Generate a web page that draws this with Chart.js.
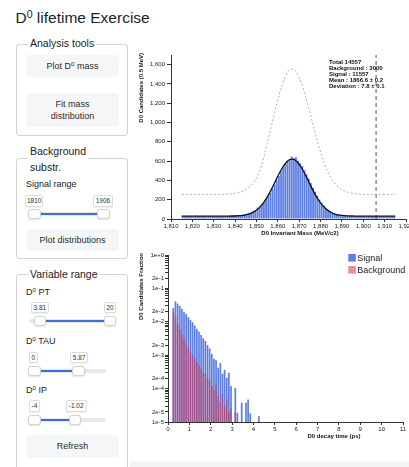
<!DOCTYPE html>
<html lang="en">
<head>
<meta charset="utf-8">
<title>D0 lifetime Exercise</title>
<script src="https://cdn.jsdelivr.net/npm/chart.js@4.4.1/dist/chart.umd.min.js"></script>
<style>
  html, body { margin: 0; padding: 0; }
  body {
    position: relative; width: 409px; height: 467px; overflow: hidden; background: #fff;
    font-family: 'Liberation Sans', Arial, Helvetica, sans-serif; color: #212529;
  }
  h1 { position: absolute; left: 15.5px; top: 10.4px; margin: 0; font-size: 15.5px; font-weight: normal; line-height: 1; white-space: nowrap; }
  sup { font-size: 0.68em; line-height: 0; vertical-align: 0.5em; }
  .panel { position: absolute; left: 16px; width: 112px; border: 1px solid #d4d4d4; border-radius: 3px; box-sizing: border-box; }
  .legend { position: absolute; left: 28px; padding: 0 2px; background: #fff; font-size: 10.5px; line-height: 16px; color: #222; white-space: nowrap; }
  .btn { position: absolute; left: 26px; width: 93px; background: #f5f6f7; border-radius: 3px; font-size: 9px; line-height: 12.5px; color: #2b2b2b; display: flex; align-items: center; justify-content: center; text-align: center; }
  .lbl { position: absolute; left: 26px; font-size: 9px; line-height: 1; color: #1a1a1a; white-space: nowrap; }
  .track { position: absolute; height: 4px; margin-top: -2px; background: #e8e8e8; border-radius: 2px; }
  .connect { position: absolute; height: 2px; margin-top: -1px; background: #3d6be0; }
  .handle { position: absolute; width: 12.5px; height: 10px; margin-top: -5px; margin-left: -6.25px; background: #fff; border: 1px solid #d2d2d2; border-radius: 3px; box-sizing: border-box; box-shadow: 0 1px 2px rgba(0,0,0,0.12); }
  .tip { position: absolute; height: 11.7px; border: 1px solid #dcdcdc; border-radius: 2px; box-sizing: border-box; background: #fff; font-size: 6.5px; line-height: 9.7px; text-align: center; color: #333; box-shadow: 0 1px 1px rgba(0,0,0,0.06); }
  .band { position: absolute; left: 130px; top: 461px; width: 279px; height: 6px; background: #f5f5f5; }
  canvas { position: absolute; left: 130px; }
  #mass-chart { top: 40px; }
  #time-chart { top: 242px; }
</style>
</head>
<body>

<h1>D<sup>0</sup> lifetime Exercise</h1>

<div class="panel" style="top:44px; height:92px;"></div>
<div class="legend" style="top:35px;">Analysis tools</div>
<div class="btn" style="top:55px; height:22px;"><span>Plot D<sup>0</sup> mass</span></div>
<div class="btn" style="top:93px; height:34px;"><span>Fit mass<br>distribution</span></div>

<div class="panel" style="top:158px; height:101px;"></div>
<div class="legend" style="top:143px;">Background<br>substr.</div>
<div class="lbl" style="top:180px;">Signal range</div>
<div class="btn" style="top:229px; height:22px;"><span>Plot distributions</span></div>

<div class="panel" style="top:274px; height:220px;"></div>
<div class="legend" style="top:266px;">Variable range</div>
<div class="lbl" style="top:287.9px;">D<sup>0</sup> PT</div>
<div class="lbl" style="top:336.8px;">D<sup>0</sup> TAU</div>
<div class="lbl" style="top:385.9px;">D<sup>0</sup> IP</div>
<div class="btn" style="top:435px; height:23px;"><span>Refresh</span></div>

<div id="sliders"></div>
<div class="band"></div>

<canvas id="mass-chart" width="290" height="202"></canvas>
<canvas id="time-chart" width="290" height="208"></canvas>

<script>
'use strict';

// DATA

// invariant mass histogram, 1 MeV bins starting at 1815
let massBinStart = 1815;
let massBinWidth = 1;
let massCounts = [
  31, 28, 34, 29, 32, 27, 35, 30, 28, 33,
  30, 26, 32, 29, 34, 31, 28, 33, 27, 30,
  32, 29, 35, 31, 33, 38, 36, 40, 44, 47,
  53, 58, 66, 78, 92, 118, 130, 152, 176, 208,
  236, 270, 312, 358, 402, 448, 492, 536, 570, 596,
  612, 648, 630, 640, 604, 578, 548, 505, 462, 418,
  372, 324, 282, 240, 202, 170, 142, 118, 96, 80,
  66, 57, 49, 44, 40, 36, 34, 33, 31, 30,
  32, 29, 31, 28, 33, 30, 27, 32, 29, 31,
  30, 33, 28, 31, 29, 32, 30, 27, 31, 29
];

// fitted curve and dashed grey curve, read every 2 MeV
let curveMass = [
  1815, 1817, 1819, 1821, 1823, 1825, 1827, 1829, 1831, 1833,
  1835, 1837, 1839, 1841, 1843, 1845, 1847, 1849, 1851, 1853,
  1855, 1857, 1859, 1861, 1863, 1865, 1867, 1869, 1871, 1873,
  1875, 1877, 1879, 1881, 1883, 1885, 1887, 1889, 1891, 1893,
  1895, 1897, 1899, 1901, 1903, 1905, 1907, 1909, 1911, 1913,
  1915
];
let fitCounts = [
  30, 30, 30, 30, 30, 30, 30, 30, 30, 30,
  30, 30, 31, 33, 36, 43, 55, 76, 110, 159,
  226, 307, 398, 487, 561, 609, 621, 594, 534, 452,
  361, 273, 197, 138, 95, 67, 49, 40, 34, 32,
  31, 30, 30, 30, 30, 30, 30, 30, 30, 30,
  30
];
let dashedCounts = [
  255, 255, 255, 255, 255, 255, 255, 255, 255, 255,
  256, 258, 262, 270, 283, 302, 336, 388, 470, 600,
  780, 965, 1150, 1315, 1450, 1535, 1555, 1510, 1410, 1270,
  1105, 935, 770, 625, 505, 420, 360, 320, 292, 276,
  266, 260, 257, 256, 255, 255, 255, 255, 255, 255,
  255
];
let signalCut = 1906;

let massXTicks = [1810, 1820, 1830, 1840, 1850, 1860, 1870, 1880, 1890, 1900, 1910, 1920];
let massYTicks = [0, 200, 400, 600, 800, 1000, 1200, 1400, 1600];

let fitStats = [
  'Total 14557',
  'Background : 3000',
  'Signal : 11557',
  'Mean : 1866.6 \u00b1 0.2',
  'Deviation : 7.8 \u00b1 0.1'
];

// decay time histograms, 0.1 ps bins (lower edges)
let timeBinWidth = 0.1;
let timeBins = [
  0.2, 0.3, 0.4, 0.5, 0.6, 0.7, 0.8, 0.9, 1.0, 1.1,
  1.2, 1.3, 1.4, 1.5, 1.6, 1.7, 1.8, 1.9, 2.0, 2.1,
  2.2, 2.3, 2.4, 2.5, 2.6, 2.7, 2.8, 2.9, 3.0, 3.1,
  3.2, 3.3, 3.4, 3.5, 3.6, 3.7, 3.8, 3.9, 4.0, 4.1,
  4.2
];
let signalFraction = [
  0.026, 0.041, 0.035, 0.030, 0.024, 0.020, 0.017, 0.0138, 0.0115, 0.0097,
  0.0078, 0.0062, 0.0051, 0.0040, 0.0032, 0.0027, 0.0020, 0.0016, 0.0011, 0.00078,
  0.00070, 0.00042, 0.00058, 0.00028, 0.00036, 0.00021, 0.00030, 0.00012, null, 0.000105,
  0.000019, null, 0.000038, null, 0.000038, 0.000047, 0.000018, null, null, null,
  0.000015
];
let backgroundFraction = [
  0.020, 0.014, 0.0085, 0.0060, 0.0042, 0.0032, 0.0024, 0.0017, 0.0013, 0.0010,
  0.00082, 0.00062, 0.00050, 0.00040, 0.00031, 0.00027, 0.00021, 0.00017, 0.00012, 0.00009,
  0.00013, 0.00006, 0.00004, 0.00007, 0.00003, 0.00005, 0.00002, 0.000025, null, 0.000019,
  null, null, null, null, null, null, null, null, null, null,
  null
];

let timeXTicks = [0, 1, 2, 3, 4, 5, 6, 7, 8, 9, 10, 11];
let fractionDecades = [-5, -4, -3, -2, -1, 0];
let fractionMantissas = [1, 2, 3, 4, 5, 6, 7, 8, 9];
let fractionLabelled = [1, 2];

// COLOURS

let massBarColor = 'rgba(65, 105, 225, 0.85)';
let signalColor = 'rgba(65, 105, 225, 0.85)';
let backgroundColor = 'rgba(215, 50, 70, 0.55)';
let axisColor = '#333';
let fontFamily = "'Liberation Sans', Arial, sans-serif";

// SLIDERS (left panel widgets)

let sliders = [
  { y: 214, track: [33, 104], handles: [34.3, 103.5], tipTop: 195, tips: [['1810', 25, 43.3], ['1906', 93.3, 112.7]] },
  { y: 321.3, track: [29, 110], handles: [40.2, 110.2], tipTop: 301.7, tips: [['3.81', 30.7, 49], ['20', 104, 116]] },
  { y: 370.8, track: [29, 106], handles: [34.5, 78.7], tipTop: 351.7, tips: [['0', 29, 37.7], ['5.87', 70, 88.3]] },
  { y: 420.3, track: [29, 106], handles: [34.5, 75], tipTop: 400, tips: [['-4', 29, 40], ['-1.02', 65.7, 86.7]] }
];

let sliderHolder = document.getElementById('sliders');

function addDiv(cls, css, text) {
  let el = document.createElement('div');
  el.className = cls;
  Object.assign(el.style, css);
  if (text) {
    el.textContent = text;
  }
  sliderHolder.appendChild(el);
}

for (let s of sliders) {
  addDiv('track', { left: s.track[0] + 'px', top: s.y + 'px', width: (s.track[1] - s.track[0]) + 'px' });
  addDiv('connect', { left: s.handles[0] + 'px', top: s.y + 'px', width: (s.handles[1] - s.handles[0]) + 'px' });
  for (let h of s.handles) {
    addDiv('handle', { left: h + 'px', top: s.y + 'px' });
  }
  for (let t of s.tips) {
    addDiv('tip', { left: t[1] + 'px', top: s.tipTop + 'px', width: (t[2] - t[1]) + 'px' }, t[0]);
  }
}

// CHART DEFAULTS

Chart.defaults.font.family = fontFamily;
Chart.defaults.font.size = 6;
Chart.defaults.color = '#222';

function toPoints(xs, ys, shift) {
  return xs.map((x, i) => ({ x: x + shift, y: ys[i] }));
}

// MASS CHART

let massBins = massCounts.map((c, i) => massBinStart + i * massBinWidth);

let massText = {
  id: 'massText',
  afterDraw(chart) {
    let ctx = chart.ctx;
    let area = chart.chartArea;
    ctx.save();
    ctx.fillStyle = '#111';
    ctx.font = 'bold 6px ' + fontFamily;
    ctx.textAlign = 'center';
    ctx.textBaseline = 'middle';
    ctx.fillText('D0 Invariant Mass (MeV/c2)', area.left + 129, area.bottom + 14);

    ctx.textAlign = 'left';
    for (let i = 0; i < fitStats.length; i++) {
      ctx.fillText(fitStats[i], area.left + 158, area.top + 7 + i * 6.1);
    }

    ctx.translate(11.7, area.top - 2);
    ctx.rotate(-Math.PI / 2);
    ctx.textAlign = 'right';
    ctx.fillText('D0 Candidates (0.5 MeV)', 0, 0);
    ctx.restore();
  }
};

new Chart(document.getElementById('mass-chart').getContext('2d'), {
  type: 'bar',
  data: {
    datasets: [
      {
        type: 'line',
        label: 'Fit',
        data: toPoints(curveMass, fitCounts, 0),
        borderColor: '#111',
        borderWidth: 1.3,
        pointRadius: 0,
        cubicInterpolationMode: 'monotone',
        order: 0
      },
      {
        type: 'line',
        label: 'Dashed',
        data: toPoints(curveMass, dashedCounts, 0),
        borderColor: '#9a9a9a',
        borderWidth: 0.8,
        borderDash: [2, 2],
        pointRadius: 0,
        cubicInterpolationMode: 'monotone',
        order: 1
      },
      {
        type: 'line',
        label: 'Cut',
        data: [{ x: signalCut, y: 0 }, { x: signalCut, y: 1700 }],
        borderColor: '#555',
        borderWidth: 1,
        borderDash: [4, 3],
        pointRadius: 0,
        order: 2
      },
      {
        type: 'bar',
        label: 'Candidates',
        data: toPoints(massBins, massCounts, massBinWidth / 2),
        backgroundColor: massBarColor,
        barPercentage: 0.85,
        categoryPercentage: 1,
        order: 3
      }
    ]
  },
  options: {
    responsive: false,
    animation: false,
    devicePixelRatio: 1,
    layout: { padding: { left: 0, right: 14, top: 15, bottom: 0 } },
    plugins: { legend: { display: false }, tooltip: { enabled: false } },
    scales: {
      x: {
        type: 'linear',
        min: 1810,
        max: 1920,
        offset: false,
        grid: { offset: false, drawOnChartArea: false, tickLength: 3, color: axisColor },
        border: { color: axisColor },
        ticks: { padding: 1, autoSkip: false, maxRotation: 0, callback: (v) => v.toLocaleString('en-US') },
        afterBuildTicks: (s) => { s.ticks = massXTicks.map((v) => ({ value: v })); },
        afterFit: (s) => { s.height = 23; }
      },
      y: {
        type: 'linear',
        min: 0,
        max: 1700,
        grid: { drawOnChartArea: false, tickLength: 4, color: axisColor },
        border: { color: axisColor },
        ticks: { padding: 2, autoSkip: false, callback: (v) => v.toLocaleString('en-US') },
        afterBuildTicks: (s) => { s.ticks = massYTicks.map((v) => ({ value: v })); },
        afterFit: (s) => { s.width = 41; }
      }
    }
  },
  plugins: [massText]
});

// DECAY TIME CHART

let fractionTicks = [];
for (let d of fractionDecades) {
  for (let m of fractionMantissas) {
    if (d === 0 && m > 1) {
      continue;
    }
    let v = m * Math.pow(10, d);
    fractionTicks.push({ value: v, label: fractionLabelled.includes(m) ? v.toExponential(0) : '' });
  }
}

let timeText = {
  id: 'timeText',
  afterDraw(chart) {
    let ctx = chart.ctx;
    let area = chart.chartArea;
    ctx.save();
    ctx.fillStyle = '#111';
    ctx.font = 'bold 6px ' + fontFamily;
    ctx.textAlign = 'center';
    ctx.textBaseline = 'middle';
    ctx.fillText('D0 decay time (ps)', 204, area.bottom + 14);

    // legend
    let entries = [['Signal', signalColor], ['Background', backgroundColor]];
    ctx.font = '9px ' + fontFamily;
    ctx.textAlign = 'left';
    for (let i = 0; i < entries.length; i++) {
      let top = 12 + i * 12;
      ctx.fillStyle = entries[i][1];
      ctx.fillRect(218.3, top, 7.5, 7.6);
      ctx.fillStyle = '#222';
      ctx.fillText(entries[i][0], 227.3, top + 4.2);
    }

    ctx.fillStyle = '#111';
    ctx.font = 'bold 6px ' + fontFamily;
    ctx.translate(11.7, area.top - 2);
    ctx.rotate(-Math.PI / 2);
    ctx.textAlign = 'right';
    ctx.fillText('D0 Candidates Fraction', 0, 0);
    ctx.restore();
  }
};

new Chart(document.getElementById('time-chart').getContext('2d'), {
  type: 'bar',
  data: {
    datasets: [
      {
        label: 'Background',
        data: toPoints(timeBins, backgroundFraction, timeBinWidth / 2),
        backgroundColor: backgroundColor,
        order: 0
      },
      {
        label: 'Signal',
        data: toPoints(timeBins, signalFraction, timeBinWidth / 2),
        backgroundColor: signalColor,
        order: 1
      }
    ]
  },
  options: {
    responsive: false,
    animation: false,
    devicePixelRatio: 1,
    layout: { padding: { left: 0, right: 17, top: 13, bottom: 0 } },
    datasets: { bar: { grouped: false, barPercentage: 0.8, categoryPercentage: 1 } },
    plugins: { legend: { display: false }, tooltip: { enabled: false } },
    scales: {
      x: {
        type: 'linear',
        min: 0,
        max: 11,
        offset: false,
        grid: { offset: false, drawOnChartArea: false, tickLength: 3, color: axisColor },
        border: { color: axisColor },
        ticks: { padding: 1, autoSkip: false, maxRotation: 0, callback: (v) => String(v) },
        afterBuildTicks: (s) => { s.ticks = timeXTicks.map((v) => ({ value: v })); },
        afterFit: (s) => { s.height = 28; }
      },
      y: {
        type: 'logarithmic',
        min: 1e-5,
        max: 1,
        grid: { drawOnChartArea: false, tickLength: 3, color: axisColor },
        border: { color: axisColor },
        ticks: { padding: 1, autoSkip: false, callback: (v, i) => fractionTicks[i].label },
        afterBuildTicks: (s) => { s.ticks = fractionTicks.map((t) => ({ value: t.value })); },
        afterFit: (s) => { s.width = 38; }
      }
    }
  },
  plugins: [timeText]
});
</script>
</body>
</html>
